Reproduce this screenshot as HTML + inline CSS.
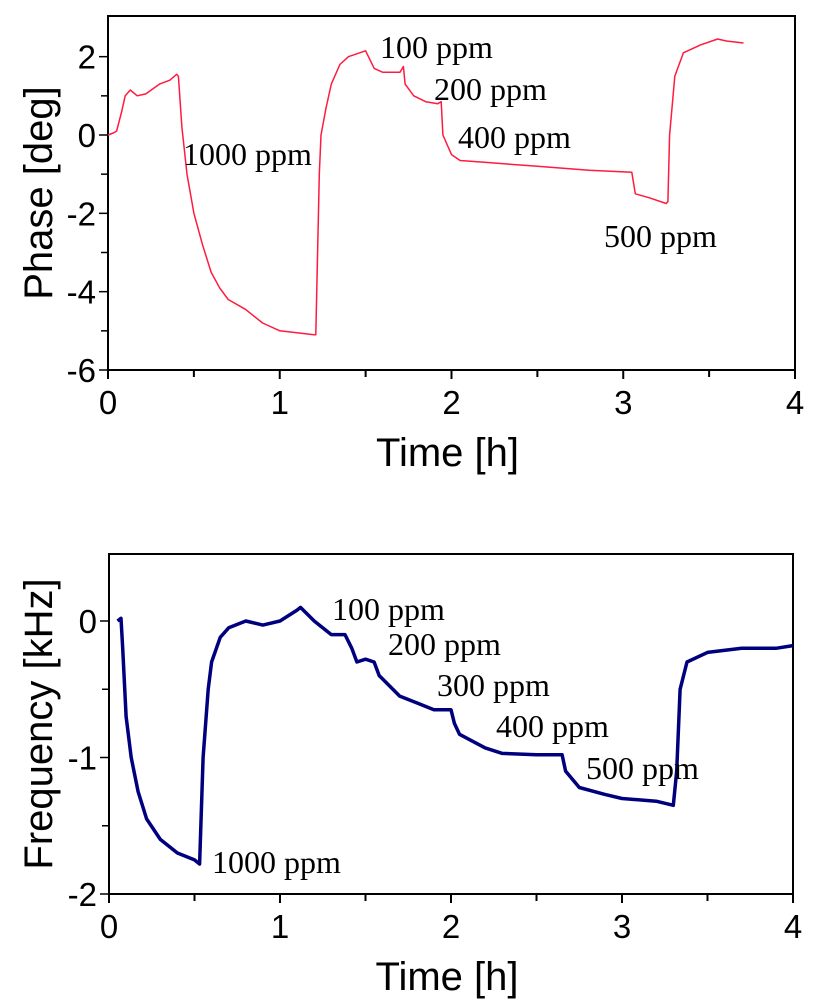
<!DOCTYPE html>
<html><head><meta charset="utf-8"><style>
body{margin:0;background:#fff;}
svg{display:block;}
.ax{font-family:"Liberation Sans",sans-serif;fill:#000;}
.ann{font-family:"Liberation Serif",serif;font-size:32px;fill:#000;}
</style></head><body>
<svg id="c" width="817" height="1000" viewBox="0 0 817 1000"></svg>
<script>
const phaseT=[0,0.03,0.05,0.08,0.1,0.13,0.17,0.22,0.3,0.36,0.4,0.41,0.43,0.46,0.5,0.55,0.6,0.65,0.7,0.8,0.9,1.0,1.1,1.2,1.21,1.23,1.24,1.27,1.3,1.35,1.4,1.5,1.55,1.6,1.7,1.72,1.73,1.78,1.85,1.92,1.94,1.95,2.0,2.05,2.2,2.5,2.8,3.05,3.07,3.15,3.25,3.26,3.27,3.3,3.35,3.45,3.55,3.6,3.7];
const phaseV=[0,0.05,0.1,0.6,1.0,1.15,1.0,1.05,1.3,1.4,1.55,1.5,0.2,-1.0,-2.0,-2.8,-3.5,-3.9,-4.2,-4.45,-4.8,-5.0,-5.05,-5.1,-5.1,-1.0,0.0,0.7,1.3,1.8,2.0,2.15,1.7,1.6,1.6,1.75,1.3,1.0,0.85,0.8,0.85,0.0,-0.5,-0.65,-0.7,-0.8,-0.9,-0.95,-1.5,-1.6,-1.75,-1.7,0.0,1.5,2.1,2.3,2.45,2.4,2.35];
const freqT=[0.05,0.07,0.08,0.1,0.13,0.17,0.22,0.3,0.4,0.5,0.53,0.54,0.55,0.58,0.6,0.65,0.7,0.8,0.9,1.0,1.1,1.12,1.2,1.3,1.38,1.42,1.45,1.5,1.55,1.58,1.7,1.8,1.9,2.0,2.02,2.05,2.2,2.3,2.5,2.65,2.67,2.75,2.9,3.0,3.2,3.3,3.32,3.34,3.38,3.5,3.7,3.9,4.0];
const freqV=[0,0.02,-0.2,-0.7,-1.0,-1.25,-1.45,-1.6,-1.7,-1.75,-1.78,-1.4,-1.0,-0.5,-0.3,-0.12,-0.05,0,-0.03,0,0.08,0.1,0,-0.1,-0.1,-0.2,-0.3,-0.28,-0.3,-0.4,-0.55,-0.6,-0.65,-0.65,-0.75,-0.83,-0.93,-0.97,-0.98,-0.98,-1.1,-1.22,-1.27,-1.3,-1.32,-1.35,-1.1,-0.5,-0.3,-0.23,-0.2,-0.2,-0.18];
const xTicks=[0,1,2,3,4];
const phaseTicks=[2,0,-2,-4,-6];
const freqTicks=[0,-1,-2];
const NS='http://www.w3.org/2000/svg';
const svg=document.getElementById('c');
function mk(tag,attrs,parent){const e=document.createElementNS(NS,tag);for(const k in attrs)e.setAttribute(k,attrs[k]);(parent||svg).appendChild(e);return e;}
function panel(o){
  const g=mk('g',{});
  
  
  const X=t=>o.x0+(t-0)*(o.x1-o.x0)/4;
  const Y=v=>o.yZ+(v-o.vZ)*(o.yB-o.yZ)/(o.vB-o.vZ);
  const box=mk('rect',{x:o.x0,y:o.top,width:o.x1-o.x0,height:o.bot-o.top,fill:'none',stroke:'#000','stroke-width':2},g);
  
  
  for(let t=0;t<=4;t+=0.5){const x=X(t);const maj=Number.isInteger(t);
    const tk=mk('line',{x1:x,x2:x,y1:o.bot,y2:o.bot+(maj?9:7),stroke:'#000','stroke-width':2},g);
    }
  xTicks.forEach(t=>{const tx=mk('text',{x:X(t),y:o.bot+44,'text-anchor':'middle','font-size':33,class:'ax'},g);tx.textContent=t;
    });
  for(let v=o.ticks[o.ticks.length-1];v<=o.ticks[0]+0.01;v+=o.step/2){const y=Y(v);const maj=Math.abs(v/o.step-Math.round(v/o.step))<0.01;
    const tk=mk('line',{x1:o.x0-(maj?9:7),x2:o.x0,y1:y,y2:y,stroke:'#000','stroke-width':1.5},g);
    }
  o.ticks.forEach(v=>{const tx=mk('text',{x:o.x0-12,y:Y(v)+12,'text-anchor':'end','font-size':33,class:'ax'},g);tx.textContent=v;
    });
  const xt=mk('text',{x:(o.x0+o.x1)/2-4,y:o.bot+96,'text-anchor':'middle','font-size':40,class:'ax'},g);xt.textContent='Time [h]';
  
  const yc=(o.top+o.bot)/2;
  const yt=mk('text',{x:52,y:yc,'text-anchor':'middle','font-size':40,class:'ax',transform:`rotate(-90 52 ${yc})`},g);yt.textContent=o.ylab;
  
  const d=o.T.map((t,i)=>(i?'L':'M')+X(t).toFixed(1)+' '+Y(o.V[i]).toFixed(1)).join(' ');
  const p=mk('path',{d:d,fill:'none',stroke:o.color,'stroke-width':o.w,'stroke-linejoin':'round'},g);
  
  o.ann.forEach(a=>{const tx=mk('text',{x:a[0],y:a[1],class:'ann'},g);tx.textContent=a[2];
    });
}
panel({name:'phase-chart',x0:108,x1:795,top:16,bot:370,yZ:135,vZ:0,yB:370,vB:-6,ticks:phaseTicks,step:2,ylab:'Phase [deg]',T:phaseT,V:phaseV,color:'#ff1a40',w:1.5,series:'phase-line',
  ann:[[183,165,'1000 ppm'],[380,58,'100 ppm'],[434,100,'200 ppm'],[458,148,'400 ppm'],[604,247,'500 ppm']]});
panel({name:'frequency-chart',x0:109,x1:793,top:554,bot:894,yZ:621,vZ:0,yB:894,vB:-2,ticks:freqTicks,step:1,ylab:'Frequency [kHz]',T:freqT,V:freqV,color:'#00007f',w:3.5,series:'frequency-line',
  ann:[[212,873,'1000 ppm'],[332,620,'100 ppm'],[388,655,'200 ppm'],[437,696,'300 ppm'],[496,737,'400 ppm'],[586,779,'500 ppm']]});
</script>
</body></html>
